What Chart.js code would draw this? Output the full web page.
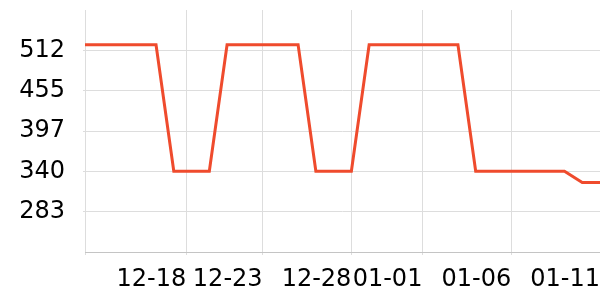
<!DOCTYPE html>
<html>
<head>
<meta charset="utf-8">
<script src="https://cdn.jsdelivr.net/npm/chart.js@4/dist/chart.umd.min.js"></script>
<style>
  html, body { margin: 0; padding: 0; background: #fff; }
</style>
</head>
<body>
<canvas id="chart" width="600" height="300"></canvas>
<script>
// one point per day, 12-13 .. 01-11
const dates = ['12-13', '12-14', '12-15', '12-16', '12-17', '12-18', '12-19', '12-20', '12-21', '12-22',
  '12-23', '12-24', '12-25', '12-26', '12-27', '12-28', '12-29', '12-30', '12-31', '01-01',
  '01-02', '01-03', '01-04', '01-05', '01-06', '01-07', '01-08', '01-09', '01-10', '01-11'];
const values = [520, 520, 520, 520, 520, 340, 340, 340, 520, 520,
  520, 520, 520, 340, 340, 340, 520, 520, 520, 520,
  520, 520, 340, 340, 340, 340, 340, 340, 324, 324];

// x ticks sit at these day positions (index into dates)
const xTickValues = [0, 5.7, 10, 15, 19, 24, 29];
const xTickLabels = ['', '12-18', '12-23', '12-28', '01-01', '01-06', '01-11'];

const yMin = 225.3;
const yStep = 57.35;
const yMax = yMin + 6 * yStep;

const ctx = document.getElementById('chart').getContext('2d');
const font = { family: 'DejaVu Sans', size: 24 };

new Chart(ctx, {
  type: 'line',
  data: {
    datasets: [{
      label: 'value',
      data: values.map((v, i) => ({ x: i, y: v })),
      borderColor: '#ef4b2d',
      borderWidth: 3,
      pointRadius: 0,
      fill: false,
      tension: 0,
    }],
  },
  options: {
    responsive: false,
    animation: false,
    layout: { padding: { top: 10, right: 0, left: 0, bottom: 0 } },
    plugins: {
      legend: { display: false },
      tooltip: { enabled: false },
    },
    scales: {
      x: {
        type: 'linear',
        min: 0,
        max: dates.length - 1,
        afterBuildTicks: (scale) => {
          scale.ticks = xTickValues.map(v => ({ value: v }));
        },
        afterFit: (scale) => {
          scale.height = 48;
          scale.paddingLeft = 0;
          scale.paddingRight = 0;
        },
        grid: { color: '#dddddd', tickLength: 3 },
        border: { color: '#c4c4c4' },
        ticks: {
          autoSkip: false,
          maxRotation: 0,
          align: 'end',
          padding: 10,
          color: '#000',
          font: font,
          callback: (v, i) => xTickLabels[i],
        },
      },
      y: {
        min: yMin,
        max: yMax,
        afterBuildTicks: (scale) => {
          const t = [];
          for (let k = 1; k <= 5; k++) t.push({ value: yMin + k * yStep });
          scale.ticks = t;
        },
        afterFit: (scale) => {
          scale.width = 85;
          scale.paddingTop = 0;
          scale.paddingBottom = 0;
        },
        grid: { color: '#dddddd', tickLength: 2 },
        border: { display: false },
        ticks: {
          padding: 18,
          color: '#000',
          font: font,
          callback: (v) => Math.round(v),
        },
      },
    },
  },
});
</script>
</body>
</html>
